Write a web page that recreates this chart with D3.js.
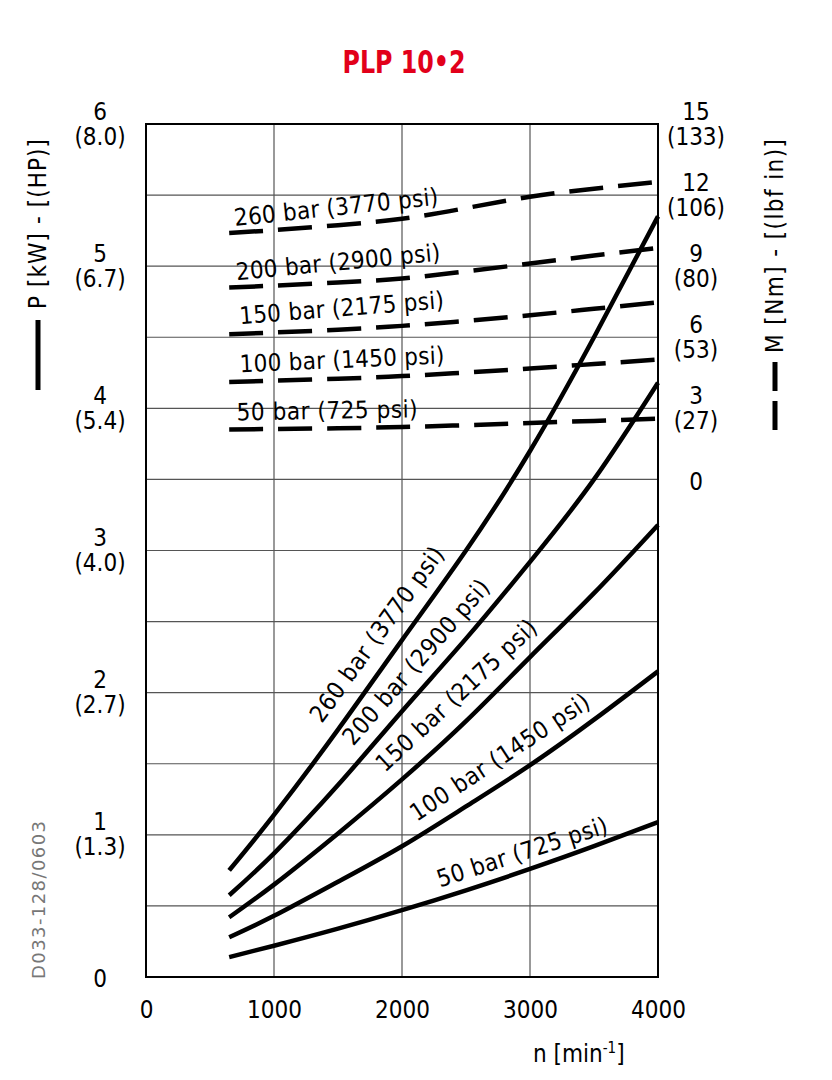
<!DOCTYPE html>
<html lang="en">
<head>
<meta charset="utf-8">
<title>PLP 10-2</title>
<script src="https://d3js.org/d3.v7.min.js"></script>
<style>
  body { margin: 0; background: #fff; }
  text { font-family: "DejaVu Sans Condensed", "Liberation Sans Narrow", sans-serif; fill: #000; }
</style>
</head>
<body>
<script>

// speed (min-1) where the curves are read
var rpm = [650, 1000, 1500, 2000, 2500, 3000, 3500, 4000];

// pressure labels
var pressures = ["50 bar (725 psi)", "100 bar (1450 psi)", "150 bar (2175 psi)",
                 "200 bar (2900 psi)", "260 bar (3770 psi)"];

// power P [kW] (solid)
var power50  = [0.14, 0.22, 0.34, 0.47, 0.61, 0.76, 0.92, 1.09];
var power100 = [0.28, 0.43, 0.67, 0.92, 1.20, 1.49, 1.81, 2.15];
var power150 = [0.42, 0.65, 1.01, 1.39, 1.80, 2.25, 2.70, 3.18];
var power200 = [0.575, 0.87, 1.35, 1.87, 2.38, 2.92, 3.50, 4.18];
var power260 = [0.75, 1.14, 1.74, 2.37, 3.00, 3.70, 4.50, 5.35];

// torque M [Nm] (dashed)
var torque50  = [2.11, 2.13, 2.16, 2.21, 2.29, 2.38, 2.47, 2.56];
var torque100 = [4.11, 4.17, 4.25, 4.36, 4.51, 4.68, 4.87, 5.06];
var torque150 = [6.13, 6.20, 6.32, 6.48, 6.69, 6.93, 7.20, 7.47];
var torque200 = [8.10, 8.18, 8.31, 8.48, 8.78, 9.11, 9.45, 9.77];
var torque260 = [10.40, 10.52, 10.73, 11.00, 11.45, 11.93, 12.27, 12.56];

// axis ticks
var rpmTicks = [0, 1000, 2000, 3000, 4000];
var powerTicks = [0, 1, 2, 3, 4, 5, 6];
var hpLabels = ["", "(1.3)", "(2.7)", "(4.0)", "(5.4)", "(6.7)", "(8.0)"];
var torqueTicks = [0, 3, 6, 9, 12, 15];
var lbfLabels = ["", "(27)", "(53)", "(80)", "(106)", "(133)"];

// where the curve labels sit: [rpm, value, angle]
var powerLabelPos = [[2297, 0.63, -18], [2115, 1.09, -33.5], [1867, 1.435, -43],
                     [1620, 1.62, -49], [1373, 1.78, -54]];
var torqueLabelPos = [[709, 2.49, -1], [734, 4.52, -2.5], [734, 6.55, -4.5],
                      [709, 8.41, -5.5], [695, 10.69, -6]];

var powerSeries = [power50, power100, power150, power200, power260];
var torqueSeries = [torque50, torque100, torque150, torque200, torque260];

var w = 832, h = 1080;
var pLeft = 146, pRight = 658, pTop = 124, pBottom = 977;

var x = d3.scaleLinear().domain([0, 4000]).range([pLeft, pRight]);
var yP = d3.scaleLinear().domain([0, 6]).range([pBottom, pTop]);
// torque 0..15 Nm shares the upper part of the grid (P 3.5..6)
var yM = d3.scaleLinear().domain([0, 15]).range([yP(3.5), pTop]);

var svg = d3.select("body").append("svg")
  .attr("width", w)
  .attr("height", h);

// title
svg.append("text")
  .attr("x", 404)
  .attr("y", 73)
  .attr("text-anchor", "middle")
  .attr("textLength", 123)
  .attr("lengthAdjust", "spacingAndGlyphs")
  .style("font-family", "'Liberation Sans Narrow', 'DejaVu Sans Condensed', sans-serif")
  .style("font-weight", "bold")
  .style("font-size", "32px")
  .style("fill", "#e2001a")
  .text("PLP 10\u20222");

// grid
var grid = svg.append("g");
grid.selectAll("line.h")
  .data(d3.range(0.5, 6, 0.5))
  .enter().append("line")
  .attr("class", "h")
  .attr("x1", pLeft).attr("x2", pRight)
  .attr("y1", d => yP(d)).attr("y2", d => yP(d))
  .attr("stroke", "#555").attr("stroke-width", 1.2);
grid.selectAll("line.v")
  .data(rpmTicks.slice(1, -1))
  .enter().append("line")
  .attr("class", "v")
  .attr("x1", d => x(d)).attr("x2", d => x(d))
  .attr("y1", pTop).attr("y2", pBottom)
  .attr("stroke", "#555").attr("stroke-width", 1.2);

// frame
svg.append("rect")
  .attr("x", pLeft).attr("y", pTop)
  .attr("width", pRight - pLeft).attr("height", pBottom - pTop)
  .attr("fill", "none").attr("stroke", "#000").attr("stroke-width", 2);

// x axis
var xAxis = svg.append("g")
  .attr("transform", "translate(0," + pBottom + ")")
  .call(d3.axisBottom(x).tickValues(rpmTicks).tickFormat(d3.format("d")).tickSize(0).tickPadding(24));
xAxis.select(".domain").remove();
xAxis.selectAll("text").style("font-size", "24px")
  .style("font-family", "'DejaVu Sans Condensed', sans-serif");

// left axis, two-line labels
var yAxisL = svg.append("g")
  .attr("transform", "translate(" + pLeft + ",0)")
  .call(d3.axisLeft(yP).tickValues(powerTicks).tickSize(0));
yAxisL.select(".domain").remove();
yAxisL.selectAll("text").each(function (d, i) {
  var t = d3.select(this).text("")
    .attr("x", -46).attr("dy", null)
    .attr("text-anchor", "middle")
    .style("font-size", "24px");
  if (hpLabels[i] === "") {
    t.append("tspan").attr("x", -46).attr("y", 9).text(d);
  } else {
    t.append("tspan").attr("x", -46).attr("y", -5).text(d);
    t.append("tspan").attr("x", -46).attr("y", 20).text(hpLabels[i]);
  }
});

// right axis, two-line labels
var yAxisR = svg.append("g")
  .attr("transform", "translate(" + pRight + ",0)")
  .call(d3.axisRight(yM).tickValues(torqueTicks).tickSize(0));
yAxisR.select(".domain").remove();
yAxisR.selectAll("text").each(function (d, i) {
  var t = d3.select(this).text("")
    .attr("x", 38).attr("dy", null)
    .attr("text-anchor", "middle")
    .style("font-size", "24px");
  if (lbfLabels[i] === "") {
    t.append("tspan").attr("x", 38).attr("y", 10).text(d);
  } else {
    t.append("tspan").attr("x", 38).attr("y", -5).text(d);
    t.append("tspan").attr("x", 38).attr("y", 20).text(lbfLabels[i]);
  }
});

// curves
var lineP = d3.line()
  .x((d, i) => x(rpm[i]))
  .y(d => yP(d))
  .curve(d3.curveNatural);
var lineM = d3.line()
  .x((d, i) => x(rpm[i]))
  .y(d => yM(d))
  .curve(d3.curveNatural);

svg.append("g").selectAll("path")
  .data(torqueSeries)
  .enter().append("path")
  .attr("d", lineM)
  .attr("fill", "none")
  .attr("stroke", "#000")
  .attr("stroke-width", 4.5)
  .attr("stroke-dasharray", "34,15");

svg.append("g").selectAll("path")
  .data(powerSeries)
  .enter().append("path")
  .attr("d", lineP)
  .attr("fill", "none")
  .attr("stroke", "#000")
  .attr("stroke-width", 4.5);

// curve labels
svg.append("g").selectAll("text")
  .data(powerLabelPos)
  .enter().append("text")
  .attr("transform", d => "translate(" + x(d[0]) + "," + yP(d[1]) + ") rotate(" + d[2] + ")")
  .attr("textLength", (d, i) => i === 0 ? 178 : 210)
  .attr("lengthAdjust", "spacing")
  .style("font-size", "24px")
  .text((d, i) => pressures[i]);

svg.append("g").selectAll("text")
  .data(torqueLabelPos)
  .enter().append("text")
  .attr("transform", d => "translate(" + x(d[0]) + "," + yM(d[1]) + ") rotate(" + d[2] + ")")
  .attr("textLength", (d, i) => i === 0 ? 181 : 205)
  .attr("lengthAdjust", "spacing")
  .style("font-size", "24px")
  .text((d, i) => pressures[i]);

// axis titles
svg.append("text")
  .attr("transform", "translate(46,224) rotate(-90)")
  .attr("text-anchor", "middle")
  .attr("textLength", 170)
  .style("font-size", "24px")
  .text("P [kW] - [(HP)]");
svg.append("line")
  .attr("x1", 38).attr("x2", 38)
  .attr("y1", 320).attr("y2", 390)
  .attr("stroke", "#000").attr("stroke-width", 5);

svg.append("text")
  .attr("transform", "translate(783,246) rotate(-90)")
  .attr("text-anchor", "middle")
  .attr("textLength", 214)
  .style("font-size", "24px")
  .text("M [Nm] - [(lbf in)]");
svg.append("line")
  .attr("x1", 775).attr("x2", 775)
  .attr("y1", 362).attr("y2", 430)
  .attr("stroke", "#000").attr("stroke-width", 5)
  .attr("stroke-dasharray", "29,10");

var nLabel = svg.append("text")
  .attr("x", 533)
  .attr("y", 1062)
  .style("font-size", "24px");
nLabel.append("tspan").text("n [min");
nLabel.append("tspan").attr("dy", -9).style("font-size", "15px").text("-1");
nLabel.append("tspan").attr("dy", 9).text("]");

// drawing number
svg.append("text")
  .attr("transform", "translate(45,900) rotate(-90)")
  .attr("text-anchor", "middle")
  .attr("textLength", 158)
  .style("font-family", "'DejaVu Sans', sans-serif")
  .style("font-size", "18px")
  .style("fill", "#777")
  .text("D033-128/0603");

</script>
</body>
</html>
